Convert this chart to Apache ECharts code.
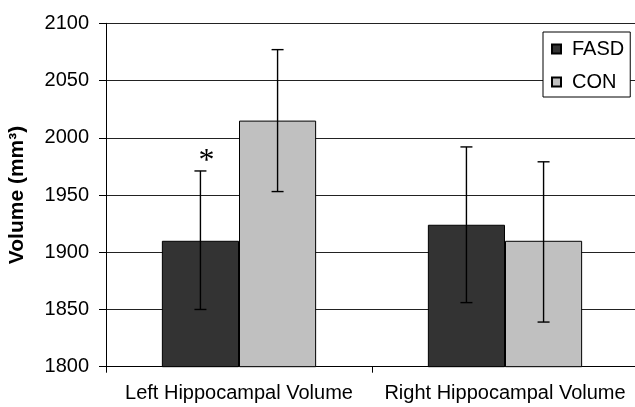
<!DOCTYPE html>
<html><head><meta charset="utf-8">
<script src="https://cdn.jsdelivr.net/npm/echarts@6/dist/echarts.min.js"></script>
<style>html,body{margin:0;padding:0;background:#fff}#c{width:635px;height:407px}</style>
</head><body><div id="c"></div>
<script>
var categories = ['Left Hippocampal Volume', 'Right Hippocampal Volume'];
var seriesNames = ['FASD', 'CON'];
var fasdValues = [1910, 1924];
var conValues = [2015, 1910];
var fasdErrLow = [1850, 1856];
var fasdErrHigh = [1971, 1992];
var conErrLow = [1953, 1839];
var conErrHigh = [2077, 1979];
var fasdSignificant = [true, false];
var yTicks = [1800, 1850, 1900, 1950, 2000, 2050, 2100];

var FONT = 'Liberation Sans, Arial, Helvetica, sans-serif';
var chart = echarts.init(document.getElementById('c'));

function errSeries(name, low, high, sig, barIndex) {
  var data = categories.map(function (c, i) { return [i, low[i], high[i], sig ? (sig[i] ? 1 : 0) : 0]; });
  return {
    type: 'custom', name: name + ' err', silent: true, z: 10,
    data: data,
    renderItem: function (params, api) {
      var idx = api.value(0);
      var lo = api.coord([idx, api.value(1)]);
      var hi = api.coord([idx, api.value(2)]);
      var bandW = api.size([1, 0])[0];
      var barW = bandW * 0.29;
      var cx = lo[0] + (barIndex === 0 ? -barW / 2 : barW / 2);
      var cap = 6;
      var st = { stroke: '#000', lineWidth: 1.4 };
      var children = [
        { type: 'line', shape: { x1: cx, y1: hi[1], x2: cx, y2: lo[1] }, style: st },
        { type: 'line', shape: { x1: cx - cap, y1: hi[1], x2: cx + cap, y2: hi[1] }, style: st },
        { type: 'line', shape: { x1: cx - cap, y1: lo[1], x2: cx + cap, y2: lo[1] }, style: st }
      ];
      if (api.value(3) === 1) {
        children.push({ type: 'text', style: { text: '*', x: cx + 6, y: hi[1] + 7, font: '32px Liberation Serif, Times New Roman, serif', fill: '#000', textAlign: 'center', textVerticalAlign: 'bottom' } });
      }
      return { type: 'group', children: children };
    }
  };
}

chart.setOption({
  animation: false,
  backgroundColor: '#fff',
  grid: { left: 106, top: 23.3, width: 532, bottom: 40.3, containLabel: false, outerBoundsMode: 'none' },
  legend: {
    orient: 'vertical', left: 543, top: 32,
    data: seriesNames,
    backgroundColor: '#fff', borderColor: '#000', borderWidth: 1,
    padding: [7, 6, 5, 8], itemGap: 13, itemWidth: 9, itemHeight: 9,
    icon: 'rect',
    textStyle: { fontFamily: FONT, fontSize: 20, color: '#000', padding: [0, 0, 0, 6] }
  },
  xAxis: {
    type: 'category', data: categories,
    axisLine: { lineStyle: { color: '#000', width: 1 } },
    axisTick: { show: true, alignWithLabel: false, inside: false, length: 6, lineStyle: { color: '#000', width: 1 } },
    axisLabel: { interval: 0, fontFamily: FONT, fontSize: 20, color: '#000', margin: 17 }
  },
  yAxis: {
    type: 'value', min: yTicks[0], max: yTicks[yTicks.length - 1], interval: 50,
    name: 'Volume (mm³)', nameLocation: 'middle', nameRotate: 90, nameGap: 78,
    nameTextStyle: { fontFamily: FONT, fontSize: 21, fontWeight: 'bold', color: '#000' },
    axisLine: { show: true, lineStyle: { color: '#000', width: 1 } },
    axisTick: { show: true, inside: false, length: 7, lineStyle: { color: '#000', width: 1 } },
    axisLabel: { fontFamily: FONT, fontSize: 20, color: '#000', margin: 17, formatter: function (v) { return String(v); } },
    splitLine: { show: true, lineStyle: { color: '#222', width: 1 } }
  },
  series: [
    { name: 'FASD', type: 'bar', data: fasdValues, barGap: '0%', barCategoryGap: '42%',
      itemStyle: { color: '#333333', borderColor: '#000', borderWidth: 1 } },
    { name: 'CON', type: 'bar', data: conValues,
      itemStyle: { color: '#c0c0c0', borderColor: '#000', borderWidth: 1 } },
    errSeries('FASD', fasdErrLow, fasdErrHigh, fasdSignificant, 0),
    errSeries('CON', conErrLow, conErrHigh, null, 1)
  ]
});
</script></body></html>
